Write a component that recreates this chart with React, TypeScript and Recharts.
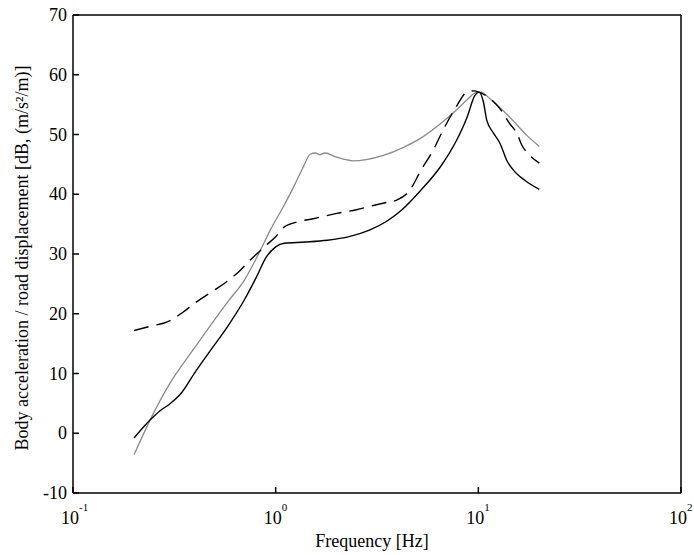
import { LineChart, Line, XAxis, YAxis, ReferenceLine } from "recharts";

// solid black curve: frequency [Hz], level [dB]
const solidFreq = [0.2, 0.24, 0.27, 0.3, 0.34, 0.4, 0.48, 0.58, 0.7, 0.8, 0.9, 1.0, 1.1, 1.4, 1.8, 2.3, 2.9, 3.5, 4.2, 5.15, 6.5, 7.8, 8.8, 9.6, 10.1, 10.6, 11.0, 11.9, 12.8, 13.8, 15.2, 17.0, 20.0];
const solidDb = [-0.8, 2.2, 3.8, 4.9, 6.6, 10.2, 14.0, 17.9, 22.3, 26.0, 29.5, 31.2, 31.8, 32.0, 32.3, 32.9, 34.0, 35.4, 37.4, 40.5, 44.6, 49.0, 52.9, 56.5, 57.1, 55.4, 52.4, 50.2, 48.5, 45.7, 43.7, 42.3, 40.8];

// dashed black curve
const dashFreq = [0.2, 0.24, 0.3, 0.35, 0.4, 0.48, 0.56, 0.67, 0.75, 0.9, 1.0, 1.1, 1.29, 1.53, 2.0, 2.5, 3.1, 3.6, 3.95, 4.6, 5.15, 6.1, 6.6, 7.8, 8.7, 9.5, 10.2, 10.8, 12.8, 14.3, 15.5, 16.4, 17.6, 20.0];
const dashDb = [17.2, 17.9, 18.8, 20.3, 21.8, 23.6, 25.1, 27.3, 29.0, 31.5, 32.9, 34.5, 35.4, 35.9, 36.8, 37.4, 38.2, 38.7, 39.0, 40.7, 43.7, 47.9, 50.3, 54.7, 57.0, 57.3, 57.0, 56.6, 54.3, 51.8, 50.2, 48.2, 46.8, 45.2];

// grey curve
const greyFreq = [0.2, 0.24, 0.3, 0.4, 0.48, 0.58, 0.7, 0.84, 0.94, 1.09, 1.18, 1.27, 1.37, 1.48, 1.57, 1.65, 1.75, 2.0, 2.4, 2.8, 3.4, 4.3, 5.2, 6.5, 7.8, 8.8, 9.7, 10.3, 11.4, 14.3, 17.3, 20.0];
const greyDb = [-3.6, 2.2, 8.3, 14.4, 18.2, 22.0, 25.6, 30.6, 34.0, 37.9, 40.1, 42.3, 44.6, 46.7, 46.9, 46.6, 46.9, 46.2, 45.6, 45.8, 46.5, 47.9, 49.4, 51.8, 54.1, 55.8, 57.0, 57.1, 56.0, 52.9, 49.9, 48.0];

const xTicks = [0.1, 1, 10, 100];
const yTicks = [-10, 0, 10, 20, 30, 40, 50, 60, 70];

const toRows = (f: number[], v: number[]) => f.map((x, i) => ({ f: x, v: v[i] }));

const FONT = "'Liberation Serif', 'Times New Roman', serif";

function XTick({ x, y, payload }: any) {
  const exp = Math.round(Math.log10(payload.value));
  return (
    <g>
      <line x1={x} y1={y} x2={x} y2={y - 6} stroke="#000" strokeWidth={1.5} />
      <text x={x - 3} y={y + 31} textAnchor="middle" fontSize={18} fontFamily={FONT} fill="#000">
        10
      </text>
      <text x={x + 6} y={y + 18} textAnchor="start" fontSize={11} fontFamily={FONT} fill="#000">
        {exp}
      </text>
    </g>
  );
}

function YTick({ x, y, payload }: any) {
  return (
    <g>
      <line x1={x} y1={y} x2={x + 6} y2={y} stroke="#000" strokeWidth={1.5} />
      <text x={x - 6} y={y + 6} textAnchor="end" fontSize={18} fontFamily={FONT} fill="#000">
        {payload.value}
      </text>
    </g>
  );
}

export default function App() {
  return (
    <div style={{ position: "absolute", left: 0, top: 0, background: "#fff" }}>
      <LineChart width={694} height={555} margin={{ top: 15, right: 13, left: 0, bottom: 0 }}>
        <XAxis
          dataKey="f"
          type="number"
          scale="log"
          domain={[0.1, 100]}
          ticks={xTicks}
          allowDataOverflow
          height={62}
          tickSize={0}
          tickMargin={0}
          tickLine={false}
          tick={<XTick />}
          axisLine={{ stroke: "#000", strokeWidth: 1.5 }}
          label={{
            content: ({ viewBox }: any) => (
              <text
                x={viewBox.x + viewBox.width / 2 - 5}
                y={viewBox.y + 54}
                textAnchor="middle"
                fontSize={18}
                fontFamily={FONT}
                fill="#000"
              >
                Frequency [Hz]
              </text>
            ),
          }}
        />
        <YAxis
          type="number"
          domain={[-10, 70]}
          ticks={yTicks}
          width={73}
          tickSize={0}
          tickMargin={0}
          tickLine={false}
          tick={<YTick />}
          axisLine={{ stroke: "#000", strokeWidth: 1.5 }}
          label={{
            content: ({ viewBox }: any) => {
              const cx = viewBox.x + 22;
              const cy = viewBox.y + viewBox.height / 2 + 4;
              return (
                <text
                  x={cx}
                  y={cy}
                  transform={`rotate(-90, ${cx}, ${cy})`}
                  textAnchor="middle"
                  dominantBaseline="central"
                  fontSize={18}
                  fontFamily={FONT}
                  fill="#000"
                >
                  Body acceleration / road displacement [dB, (m/s²/m)]
                </text>
              );
            },
          }}
        />
        <ReferenceLine x={100} stroke="#000" strokeWidth={1.5} ifOverflow="visible" />
        <ReferenceLine y={70} stroke="#000" strokeWidth={1.5} ifOverflow="visible" />
        <Line
          data={toRows(greyFreq, greyDb)}
          dataKey="v"
          type="monotone"
          stroke="#8a8a8a"
          strokeWidth={1.3}
          dot={false}
          isAnimationActive={false}
        />
        <Line
          data={toRows(dashFreq, dashDb)}
          dataKey="v"
          type="monotone"
          stroke="#000"
          strokeWidth={1.4}
          strokeDasharray="15 8"
          dot={false}
          isAnimationActive={false}
        />
        <Line
          data={toRows(solidFreq, solidDb)}
          dataKey="v"
          type="monotone"
          stroke="#000"
          strokeWidth={1.4}
          dot={false}
          isAnimationActive={false}
        />
      </LineChart>
    </div>
  );
}
